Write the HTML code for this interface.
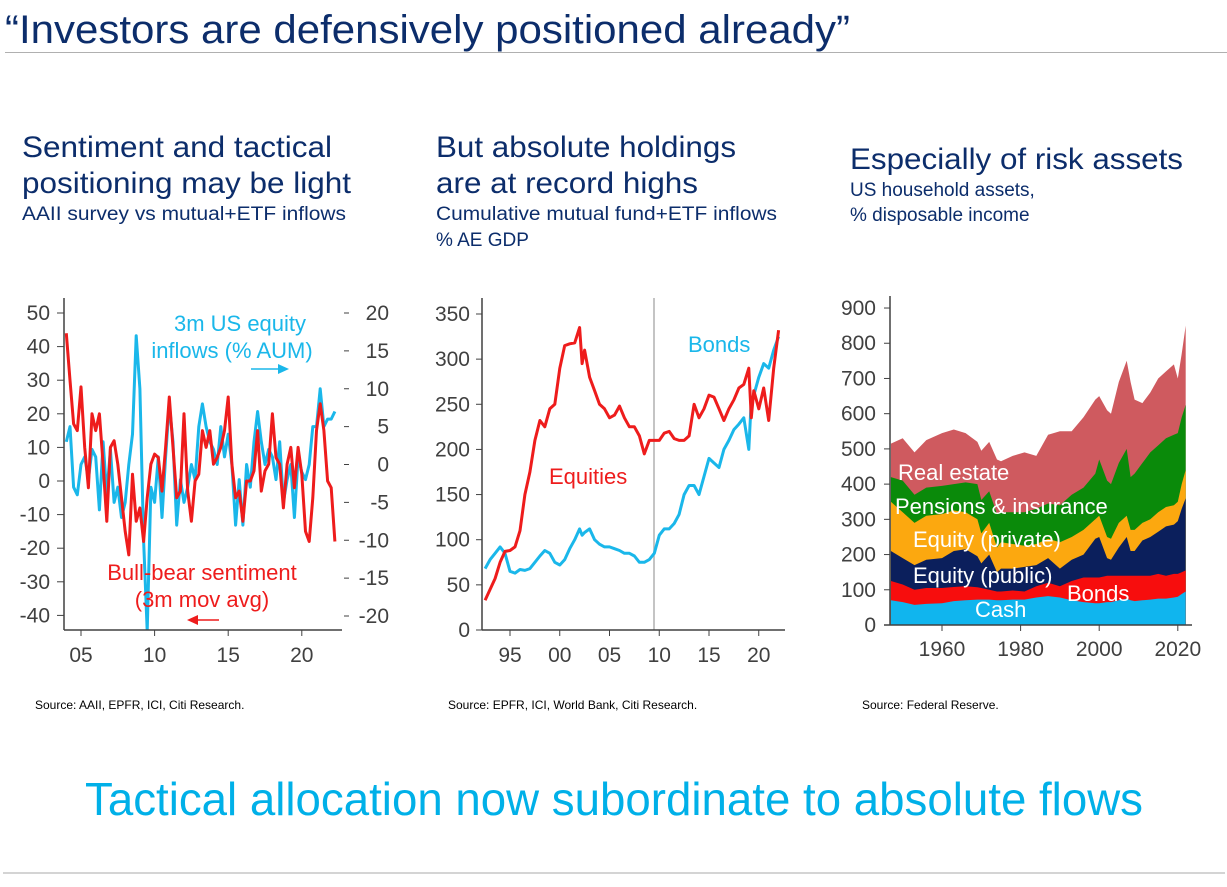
<!DOCTYPE html>
<html><head><meta charset="utf-8"><style>
html,body{margin:0;padding:0;background:#fff;}
svg{display:block;font-family:"Liberation Sans",Arial,sans-serif;}
</style></head><body>
<svg id="s" width="1227" height="887" viewBox="0 0 1227 887">
<text x="5" y="43" font-size="40" fill="#0c2d6b" textLength="845" lengthAdjust="spacingAndGlyphs">“Investors are defensively positioned already”</text>
<rect x="5" y="52" width="1222" height="1" fill="#b0b0b0"/>
<g fill="#0c2d6b">
<text x="22" y="157" font-size="30" textLength="310" lengthAdjust="spacingAndGlyphs">Sentiment and tactical</text>
<text x="22" y="193" font-size="30" textLength="329" lengthAdjust="spacingAndGlyphs">positioning may be light</text>
<text x="22" y="220" font-size="19" textLength="324" lengthAdjust="spacingAndGlyphs">AAII survey vs mutual+ETF inflows</text>
</g>
<g fill="#0c2d6b">
<text x="436" y="157" font-size="30" textLength="300" lengthAdjust="spacingAndGlyphs">But absolute holdings</text>
<text x="436" y="193" font-size="30" textLength="262" lengthAdjust="spacingAndGlyphs">are at record highs</text>
<text x="436" y="220" font-size="19" textLength="341" lengthAdjust="spacingAndGlyphs">Cumulative mutual fund+ETF inflows</text>
<text x="436" y="246" font-size="19">% AE GDP</text>
</g>
<g fill="#0c2d6b">
<text x="850" y="169" font-size="30" textLength="333" lengthAdjust="spacingAndGlyphs">Especially of risk assets</text>
<text x="850" y="196" font-size="19">US household assets,</text>
<text x="850" y="221" font-size="19">% disposable income</text>
</g>
<g id="c1"></g>
<g id="c2"></g>
<g id="c3"></g>
<g fill="#000" font-size="12">
<text x="35" y="709">Source: AAII, EPFR, ICI, Citi Research.</text>
<text x="448" y="709">Source: EPFR, ICI, World Bank, Citi Research.</text>
<text x="862" y="709">Source: Federal Reserve.</text>
</g>
<text x="85" y="815" font-size="46" fill="#00b0e8" textLength="1058" lengthAdjust="spacingAndGlyphs">Tactical allocation now subordinate to absolute flows</text>
<rect x="3" y="872" width="1222" height="2" fill="#d4d4d4"/>
</svg>
<script>
// ---- Chart 1 data ----
const c1Start = 2004.0, c1Step = 0.25;
const sentiment = [44,30,17,15,28,10,-2,20,15,20,5,-12,10,12,5,-5,-15,-22,2,-12,-8,-18,-5,5,8,7,-3,10,25,10,-5,-3,20,-3,-12,0,2,15,10,15,5,7,10,15,25,5,-5,-3,-12,0,0,3,15,-3,3,5,20,7,5,-8,5,10,-2,10,2,-15,-18,-5,15,23,15,0,-2,-18];
const inflows = [3,5,-3,-4,0,1,-2,2,1,-6,3,-4,2,-5,-3,-7,-5,0,4,17,10,-10,-22,-3,-5,1,-7,1,8,3,-8,-2,-5,-3,0,-2,5,8,5,3,2,0,5,1,4,0,-8,-2,-8,0,-3,3,7,3,0,2,1,-2,3,-5,-2,0,-7,1,-1,-2,0,5,5,10,5,6,6,7];
const c1LeftTicks = [50,40,30,20,10,0,-10,-20,-30,-40];
const c1RightTicks = [20,15,10,5,0,-5,-10,-15,-20];
const c1XTicks = [2005,2010,2015,2020];
const c1XLabels = ["05","10","15","20"];
// ---- Chart 2 data ----
const c2Years = [1992.5,1993,1993.5,1994,1994.5,1995,1995.5,1996,1996.5,1997,1997.5,1998,1998.5,1999,1999.5,2000,2000.5,2001,2001.5,2002,2002.25,2002.5,2003,2003.5,2004,2004.5,2005,2005.5,2006,2006.5,2007,2007.5,2008,2008.5,2009,2009.5,2010,2010.5,2011,2011.5,2012,2012.5,2013,2013.5,2014,2014.5,2015,2015.5,2016,2016.5,2017,2017.5,2018,2018.5,2019,2019.25,2019.5,2020,2020.5,2021,2021.5,2022];
const equities = [33,45,57,75,87,88,92,110,150,175,210,232,225,245,250,290,315,317,318,335,295,310,280,265,250,245,235,238,248,235,225,225,215,195,210,210,210,218,220,212,210,210,215,250,235,245,260,258,245,232,245,255,268,272,290,235,265,245,268,232,290,332];
const bonds = [68,78,85,92,85,65,63,67,66,68,75,82,88,85,75,72,78,90,100,112,105,108,112,100,95,92,92,90,88,85,85,82,75,75,78,85,105,112,112,118,128,150,160,160,150,170,190,185,180,200,210,222,228,235,200,255,260,280,295,290,310,325];
const c2YTicks = [0,50,100,150,200,250,300,350];
const c2XTicks = [1995,2000,2005,2010,2015,2020];
const c2XLabels = ["95","00","05","10","15","20"];
// ---- Chart 3 data ----
const c3Years = [1947,1950,1953,1956,1960,1963,1966,1969,1970,1972,1974,1975,1978,1981,1984,1987,1990,1993,1996,1999,2000,2002,2003,2005,2007,2008,2009,2011,2013,2015,2017,2019,2020,2021,2022];
const cashTop = [70,65,57,60,62,68,70,72,72,72,70,70,72,72,78,82,78,70,65,62,62,65,65,70,75,70,68,70,72,75,75,78,80,88,95];
const bondsTop = [125,115,100,105,105,108,110,107,105,100,95,95,98,95,110,120,110,125,135,135,135,140,140,140,140,140,140,140,140,145,140,145,145,150,155];
const eqPublicTop = [210,190,170,185,190,210,215,195,175,200,150,160,160,165,170,190,160,185,200,245,250,190,185,220,250,210,210,240,250,265,280,285,295,330,360];
const eqPrivateTop = [350,320,290,310,315,325,320,300,260,290,220,235,230,225,230,245,235,250,270,300,310,250,245,290,310,270,270,290,300,320,335,340,350,400,440];
const pensionsTop = [420,410,370,390,395,400,405,400,355,380,315,320,320,320,330,345,340,370,390,430,470,410,400,460,500,420,430,460,490,510,530,540,545,590,625];
const realEstateTop = [515,530,490,525,545,555,545,520,495,520,470,465,480,490,480,540,550,550,590,640,650,610,600,690,750,690,640,630,660,700,720,740,700,770,850];
const c3YTicks = [0,100,200,300,400,500,600,700,800,900];
const c3XTicks = [1960,1980,2000,2020];

const NS="http://www.w3.org/2000/svg";
function mk(parent,tag,attrs,txt){const e=document.createElementNS(NS,tag);for(const k in attrs)e.setAttribute(k,attrs[k]);if(txt!==undefined)e.textContent=txt;parent.appendChild(e);return e;}
const GRAY="#404040";

// ---- Chart 1 ----
(function(){
 const g=document.getElementById('c1');
 const x=v=>81+(v-2005)*14.72;
 const yl=v=>481-v*3.36;
 const yr=v=>464.5-v*7.575;
 const clip=mk(g,'clipPath',{id:'cp1'});mk(clip,'rect',{x:64,y:290,width:280,height:340});
 let d='';inflows.forEach((v,i)=>{d+=(i?'L':'M')+x(c1Start+i*c1Step).toFixed(1)+','+yr(v).toFixed(1);});
 let p=mk(g,'path',{d:d,fill:'none',stroke:'#1ab7ea','stroke-width':3,'clip-path':'url(#cp1)','stroke-linejoin':'round'});
 
 d='';sentiment.forEach((v,i)=>{d+=(i?'L':'M')+x(c1Start+i*c1Step).toFixed(1)+','+yl(v).toFixed(1);});
 p=mk(g,'path',{d:d,fill:'none',stroke:'#ee1c1c','stroke-width':3,'clip-path':'url(#cp1)','stroke-linejoin':'round'});
 
 mk(g,'line',{x1:64,y1:298,x2:64,y2:630,stroke:GRAY,'stroke-width':1.5});
 mk(g,'line',{x1:64,y1:630,x2:342,y2:630,stroke:GRAY,'stroke-width':1.5});
 c1LeftTicks.forEach(v=>{mk(g,'line',{x1:57,y1:yl(v),x2:64,y2:yl(v),stroke:GRAY});
  const t=mk(g,'text',{x:50,y:yl(v)+7,'font-size':21,fill:GRAY,'text-anchor':'end'},String(v));
  });
 c1RightTicks.forEach(v=>{mk(g,'line',{x1:344,y1:yr(v),x2:349,y2:yr(v),stroke:GRAY});
  const t=mk(g,'text',{x:389,y:yr(v)+7,'font-size':21,fill:GRAY,'text-anchor':'end'},String(v));
  });
 c1XTicks.forEach((v,i)=>{mk(g,'line',{x1:x(v),y1:630,x2:x(v),y2:636,stroke:GRAY});
  const t=mk(g,'text',{x:x(v),y:662,'font-size':21,fill:GRAY,'text-anchor':'middle'},c1XLabels[i]);
  });
 mk(g,'text',{x:240,y:331,'font-size':22,fill:'#1ab7ea','text-anchor':'middle'},'3m US equity');
 mk(g,'text',{x:232,y:358,'font-size':22,fill:'#1ab7ea','text-anchor':'middle'},'inflows (% AUM)');
 mk(g,'line',{x1:251,y1:369,x2:280,y2:369,stroke:'#1ab7ea','stroke-width':1.5});
 mk(g,'path',{d:'M289,369 L278,364 L278,374 Z',fill:'#1ab7ea'});
 mk(g,'text',{x:202,y:580,'font-size':22,fill:'#ee1c1c','text-anchor':'middle'},'Bull-bear sentiment');
 mk(g,'text',{x:202,y:607,'font-size':22,fill:'#ee1c1c','text-anchor':'middle'},'(3m mov avg)');
 mk(g,'line',{x1:196,y1:620,x2:219,y2:620,stroke:'#ee1c1c','stroke-width':1.5});
 mk(g,'path',{d:'M187,620 L198,615 L198,625 Z',fill:'#ee1c1c'});
})();

// ---- Chart 2 ----
(function(){
 const g=document.getElementById('c2');
 const x=v=>510+(v-1995)*9.95;
 const y=v=>630-v*0.9029;
 mk(g,'line',{x1:654,y1:298,x2:654,y2:630,stroke:'#b0b0b0','stroke-width':1.5});
 let d='';bonds.forEach((v,i)=>{d+=(i?'L':'M')+x(c2Years[i]).toFixed(1)+','+y(v).toFixed(1);});
 let p=mk(g,'path',{d:d,fill:'none',stroke:'#1ab7ea','stroke-width':3,'stroke-linejoin':'round'});
 
 d='';equities.forEach((v,i)=>{d+=(i?'L':'M')+x(c2Years[i]).toFixed(1)+','+y(v).toFixed(1);});
 p=mk(g,'path',{d:d,fill:'none',stroke:'#ee1c1c','stroke-width':3,'stroke-linejoin':'round'});
 
 mk(g,'line',{x1:482,y1:298,x2:482,y2:630,stroke:GRAY,'stroke-width':1.5});
 mk(g,'line',{x1:482,y1:630,x2:785,y2:630,stroke:GRAY,'stroke-width':1.5});
 c2YTicks.forEach(v=>{mk(g,'line',{x1:476,y1:y(v),x2:482,y2:y(v),stroke:GRAY});
  const t=mk(g,'text',{x:470,y:y(v)+7,'font-size':21,fill:GRAY,'text-anchor':'end'},String(v));
  });
 c2XTicks.forEach((v,i)=>{mk(g,'line',{x1:x(v),y1:630,x2:x(v),y2:636,stroke:GRAY});
  const t=mk(g,'text',{x:x(v),y:662,'font-size':21,fill:GRAY,'text-anchor':'middle'},c2XLabels[i]);
  });
 mk(g,'text',{x:688,y:352,'font-size':22,fill:'#1ab7ea'},'Bonds');
 mk(g,'text',{x:549,y:484,'font-size':22,fill:'#ee1c1c'},'Equities');
})();

// ---- Chart 3 ----
(function(){
 const g=document.getElementById('c3');
 const x=v=>942+(v-1960)*3.93;
 const y=v=>625-v*0.3522;
 const layers=[[realEstateTop,'#cf5a5f','real-estate-area'],[pensionsTop,'#0a8a0a','pensions-area'],[eqPrivateTop,'#fca80f','equity-private-area'],[eqPublicTop,'#0b1f5c','equity-public-area'],[bondsTop,'#f70d0d','bonds-area'],[cashTop,'#10b5ee','cash-area']];
 layers.forEach(L=>{
  let d='M'+x(c3Years[0])+','+y(0);
  L[0].forEach((v,i)=>{d+='L'+x(c3Years[i]).toFixed(1)+','+y(v).toFixed(1);});
  d+='L'+x(c3Years[c3Years.length-1])+','+y(0)+'Z';
  const p=mk(g,'path',{d:d,fill:L[1]});
  
 });
 mk(g,'line',{x1:890,y1:296,x2:890,y2:625,stroke:GRAY,'stroke-width':1.5});
 mk(g,'line',{x1:884,y1:625,x2:1192,y2:625,stroke:GRAY,'stroke-width':1.5});
 c3YTicks.forEach(v=>{mk(g,'line',{x1:884,y1:y(v),x2:890,y2:y(v),stroke:GRAY});
  const t=mk(g,'text',{x:876,y:y(v)+7,'font-size':21,fill:GRAY,'text-anchor':'end'},String(v));
  });
 c3XTicks.forEach(v=>{mk(g,'line',{x1:x(v),y1:625,x2:x(v),y2:631,stroke:GRAY});
  const t=mk(g,'text',{x:x(v),y:656,'font-size':21,fill:GRAY,'text-anchor':'middle'},String(v));
  });
 const labs=[['Real estate',898,480],['Pensions & insurance',895,514],['Equity (private)',913,547],['Equity (public)',913,583],['Bonds',1067,601],['Cash',975,617]];
 labs.forEach(l=>{const t=mk(g,'text',{x:l[1],y:l[2],'font-size':22,fill:'#fff'},l[0]);
  });
})();
</script>
</body></html>
